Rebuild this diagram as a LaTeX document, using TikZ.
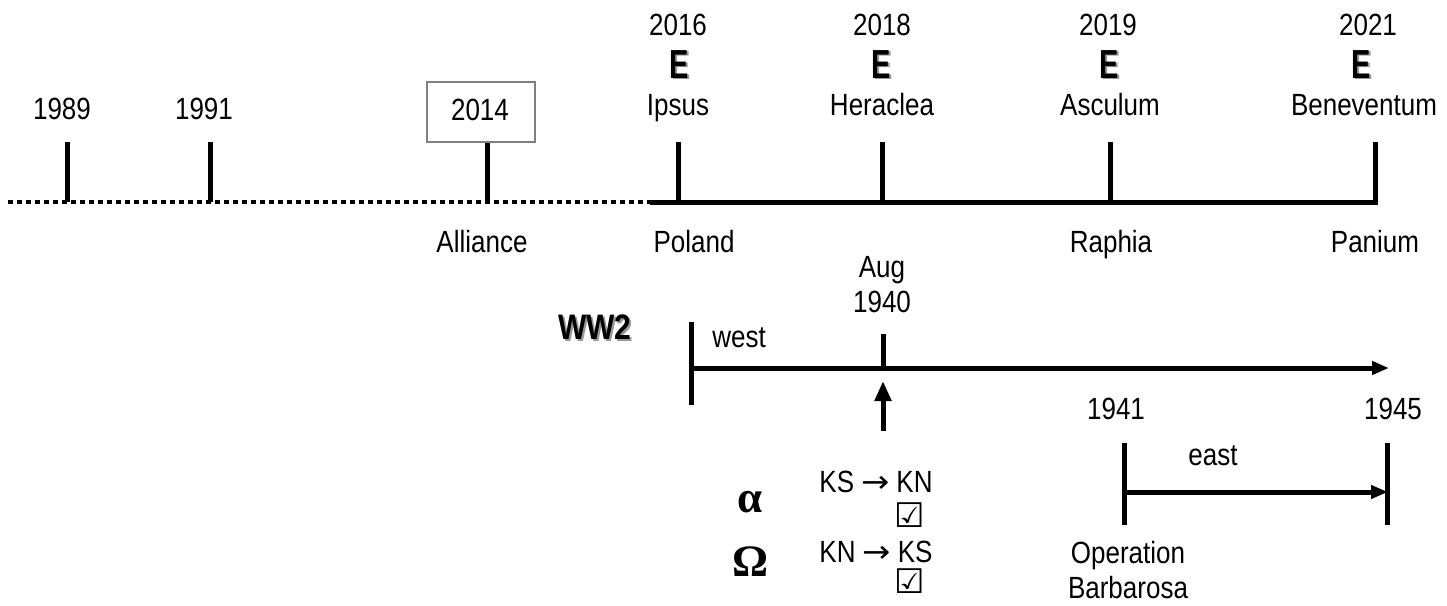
\documentclass[tikz,border=0pt]{standalone}
\usepackage{fontspec}
\usepackage{graphicx}
\setmainfont{Liberation Sans}
\newfontfamily\grkfont{Liberation Serif}
\newfontfamily\symfont{DejaVu Sans}
\usetikzlibrary{arrows.meta}
\newcommand{\vst}[2][1.18]{\scalebox{1}[#1]{#2}}
\newcommand{\rarr}{\hspace{7pt}{\symfont\scalebox{1.3}[1]{→}}\hspace{7pt}}
\tikzset{
  lbl/.style={anchor=base, inner sep=0pt, font=\fontsize{26}{30}\selectfont},
  ebig/.style={anchor=base, inner sep=0pt, font=\bfseries\fontsize{29}{30}\selectfont},
  wwlbl/.style={anchor=base, inner sep=0pt, font=\bfseries\fontsize{30}{32}\selectfont},
  grk/.style={anchor=base, inner sep=0pt, font=\grkfont\bfseries\fontsize{45}{46}\selectfont},
  chk/.style={anchor=base, inner sep=0pt, font=\symfont\fontsize{34}{36}\selectfont},
  tk/.style={line width=5pt},
  dotline/.style={line width=4.5pt, dash pattern=on 4.5pt off 4.5pt},
  yrbox/.style={draw=black!50, line width=1.3pt, minimum width=108pt, minimum height=60pt, inner sep=0pt},
  arr/.style={line width=5pt, -{Triangle[length=17pt,width=13pt]}},
}
\begin{document}
\begin{tikzpicture}[x=1pt,y=-1pt]
\useasboundingbox (0,0) rectangle (1447,605);

% ---------- main timeline ----------
\coordinate (dstart) at (8,202);
\coordinate (dend) at (650,202);
\coordinate (send) at (1377.5,202);
\draw[dotline] (dstart) -- (dend);
\draw[tk] (dend) -- (send);

\foreach \nm/\x in {a/67, b/210, c/487, d/678, e/882, f/1110, g/1375} {
  \coordinate (tt\nm) at (\x,142);
  \coordinate (tb\nm) at (\x,202);
  \draw[tk] (tt\nm) -- (tb\nm);
}

% left years
\node[lbl] (y1989) at (62,119) {\vst{1989}};
\node[lbl] (y1991) at (204,119) {\vst{1991}};
\node[yrbox] (box2014) at (481,112) {};
\node[lbl] (y2014) at (480,120) {\vst{2014}};

% top labels
\foreach \nm/\yr/\xy/\xe/\place/\xp in {d/2016/678/679/Ipsus/678, e/2018/882/881/Heraclea/882, f/2019/1108/1109/Asculum/1110, g/2021/1368/1361/Beneventum/1364} {
  \node[lbl] (yr\nm) at (\xy,35) {\vst{\yr}};
  \node[ebig, text=black!40] (es\nm) at (\xe+1.8,79.8) {\vst[1.4]{E}};
  \node[ebig] (e\nm) at (\xe,78) {\vst[1.4]{E}};
  \node[lbl] (pl\nm) at (\xp,115) {\vst{\place}};
}

% bottom labels
\node[lbl] (alliance) at (482,252) {\vst{Alliance}};
\node[lbl] (poland) at (694,252) {\vst{Poland}};
\node[lbl] (raphia) at (1111,252) {\vst{Raphia}};
\node[lbl] (panium) at (1375,252) {\vst{Panium}};

% ---------- WW2 ----------
\node[wwlbl, text=black!40] (wws) at (597,341) {\vst{WW2}};
\node[wwlbl] (ww) at (595,339) {\vst{WW2}};

\coordinate (wtop) at (691,322);
\coordinate (wbot) at (691,405);
\coordinate (wmid) at (691,368);
\coordinate (wend) at (1389,368);
\draw[tk] (wtop) -- (wbot);
\draw[arr] (wmid) -- (wend);
\node[lbl] (west) at (739,347) {\vst{west}};

\coordinate (atop) at (883,334);
\coordinate (abot) at (883,368);
\draw[tk] (atop) -- (abot);
\node[lbl] (aug) at (882,277) {\vst{Aug}};
\node[lbl] (y1940) at (882,312) {\vst{1940}};
\coordinate (uparrS) at (883,431);
\coordinate (uparrE) at (883,381);
\draw[line width=5pt, -{Triangle[length=20pt,width=16pt]}] (uparrS) -- (uparrE);

% alpha / omega
\node[grk] (alpha) at (750,512) {α};
\node[grk] (omega) at (751,576) {Ω};
\node[lbl] (ks) at (876,492) {\vst{KS\rarr KN}};
\node[chk] (c1) at (910,527) {☑};
\node[lbl] (kn) at (876,562) {\vst{KN\rarr KS}};
\node[chk] (c2) at (910,593) {☑};

% ---------- east ----------
\coordinate (e1top) at (1124,443);
\coordinate (e1bot) at (1124,525);
\coordinate (e2top) at (1387,443);
\coordinate (e2bot) at (1387,525);
\coordinate (emid) at (1124,492);
\coordinate (eend) at (1388,492);
\draw[tk] (e1top) -- (e1bot);
\draw[tk] (e2top) -- (e2bot);
\draw[arr] (emid) -- (eend);
\node[lbl] (y1941) at (1116,419) {\vst{1941}};
\node[lbl] (y1945) at (1393,419) {\vst{1945}};
\node[lbl] (east) at (1213,465) {\vst{east}};
\node[lbl] (oper) at (1128,563) {\vst{Operation}};
\node[lbl] (barb) at (1128,598) {\vst{Barbarosa}};
\end{tikzpicture}
\end{document}
